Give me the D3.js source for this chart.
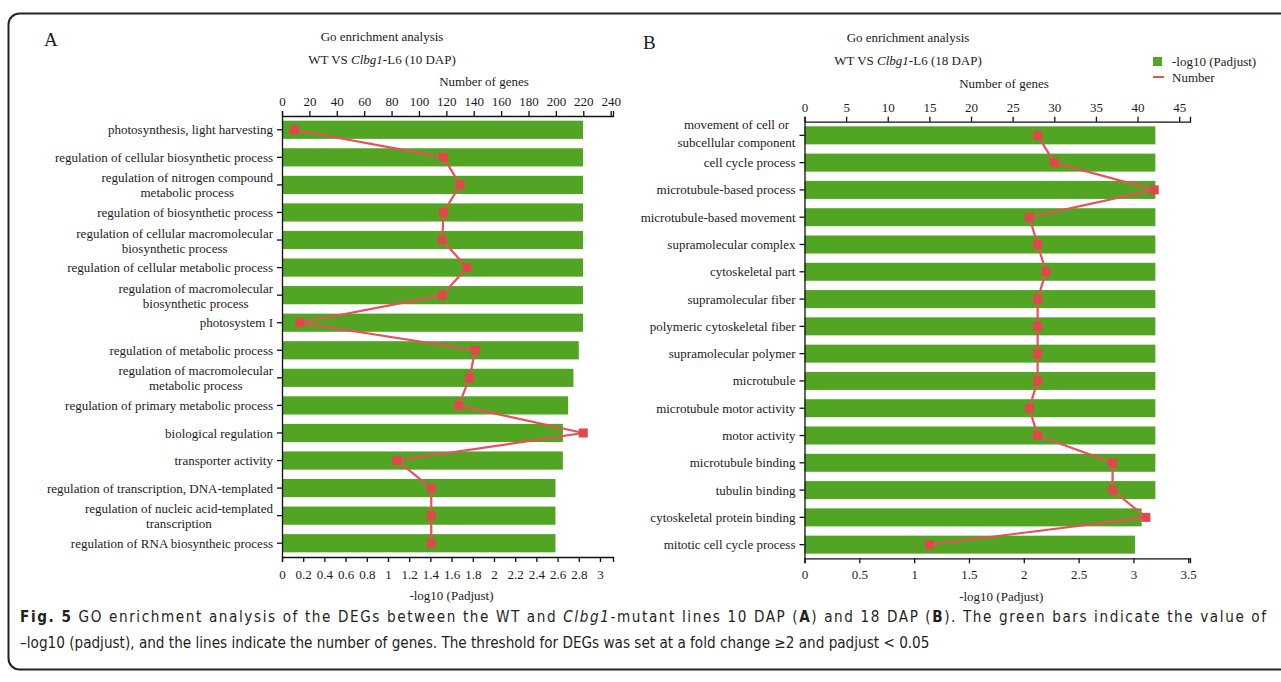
<!DOCTYPE html>
<html>
<head>
<meta charset="utf-8">
<script src="https://cdn.jsdelivr.net/npm/d3@7/dist/d3.min.js"></script>
<style>
  body { margin: 0; background: #fff; }
  svg text { font-family: "Liberation Serif", "Times New Roman", serif; fill: #1b1b1b; }
  .axis path, .axis line { stroke: #111; stroke-width: 1.3; }
  .axis text { font-family: "Liberation Serif", serif; font-size: 13px; fill: #1b1b1b; }
  svg text.cap { font-family: "DejaVu Sans Condensed", "Liberation Sans Narrow", "Open Sans", sans-serif; fill: #231f20; }
</style>
</head>
<body>
<div id="fig"></div>
<script>
// ---- panel A : WT vs Clbg1-L6, 10 DAP ----
const termsA = [
  "photosynthesis, light harvesting",
  "regulation of cellular biosynthetic process",
  "regulation of nitrogen compound\nmetabolic process",
  "regulation of biosynthetic process",
  "regulation of cellular macromolecular\nbiosynthetic process",
  "regulation of cellular metabolic process",
  "regulation of macromolecular\nbiosynthetic process",
  "photosystem I",
  "regulation of metabolic process",
  "regulation of macromolecular\nmetabolic process",
  "regulation of primary metabolic process",
  "biological regulation",
  "transporter activity",
  "regulation of transcription, DNA-templated",
  "regulation of nucleic acid-templated\ntranscription",
  "regulation of RNA biosyntheic process"
]
const padjA = [2.84, 2.84, 2.84, 2.84, 2.84, 2.84, 2.84, 2.84, 2.80, 2.75, 2.70, 2.65, 2.65, 2.58, 2.58, 2.58]
const genesA = [9, 118, 130, 118, 117, 135, 117, 13, 141, 137, 129, 220, 84, 109, 109, 109]
const padjTicksA = [0, 0.2, 0.4, 0.6, 0.8, 1, 1.2, 1.4, 1.6, 1.8, 2, 2.2, 2.4, 2.6, 2.8, 3]
const geneTicksA = [0, 20, 40, 60, 80, 100, 120, 140, 160, 180, 200, 220, 240]

// ---- panel B : WT vs Clbg1-L6, 18 DAP ----
const termsB = [
  "movement of cell or\nsubcellular component",
  "cell cycle process",
  "microtubule-based process",
  "microtubule-based movement",
  "supramolecular complex",
  "cytoskeletal part",
  "supramolecular fiber",
  "polymeric cytoskeletal fiber",
  "supramolecular polymer",
  "microtubule",
  "microtubule motor activity",
  "motor activity",
  "microtubule binding",
  "tubulin binding",
  "cytoskeletal protein binding",
  "mitotic cell cycle process"
]
const padjB = [3.2, 3.2, 3.2, 3.2, 3.2, 3.2, 3.2, 3.2, 3.2, 3.2, 3.2, 3.2, 3.2, 3.2, 3.075, 3.015]
const genesB = [28, 30, 42, 27, 28, 29, 28, 28, 28, 28, 27, 28, 37, 37, 41, 15]
const padjTicksB = [0, 0.5, 1, 1.5, 2, 2.5, 3, 3.5]
const geneTicksB = [0, 5, 10, 15, 20, 25, 30, 35, 40, 45]

const legendItems = ["-log10 (Padjust)", "Number"]

const W = 1281, H = 682
const green = "#52a523", red = "#e2474c"

const svg = d3.select("#fig").append("svg")
  .attr("width", W).attr("height", H)

svg.append("rect").attr("width", W).attr("height", H).attr("fill", "#fff")

// figure frame (runs off the right edge)
svg.append("rect")
  .attr("x", 8.5).attr("y", 13.5)
  .attr("width", 1300).attr("height", 656)
  .attr("rx", 11)
  .attr("fill", "none").attr("stroke", "#222").attr("stroke-width", 2)

function panel(o) {
  const g = svg.append("g")
  const n = o.terms.length

  const y = d3.scaleBand().domain(d3.range(n))
    .range([o.top, o.bottom]).paddingInner(0.34).paddingOuter(0.17)
  const xP = d3.scaleLinear().domain([0, o.padjMax]).range([o.left, o.right])
  const xG = d3.scaleLinear().domain([0, o.geneMax]).range([o.left, o.right])

  g.selectAll(".bar").data(o.padj).join("rect")
    .attr("class", "bar")
    .attr("x", xP(0))
    .attr("y", (d, i) => y(i))
    .attr("width", d => xP(d) - xP(0))
    .attr("height", y.bandwidth())
    .attr("fill", green)

  // axes
  g.append("g").attr("class", "axis")
    .attr("transform", `translate(0,${o.bottom})`)
    .call(d3.axisBottom(xP).tickValues(o.padjTicks).tickFormat(d3.format("~g"))
      .tickSize(5).tickSizeOuter(5).tickPadding(o.botPad))
  g.append("g").attr("class", "axis")
    .attr("transform", `translate(0,${o.top})`)
    .call(d3.axisTop(xG).tickValues(o.geneTicks).tickFormat(d3.format("d"))
      .tickSize(5).tickSizeOuter(5).tickPadding(5))
  g.append("g").attr("class", "axis")
    .attr("transform", `translate(${o.left},0)`)
    .call(d3.axisLeft(y).tickFormat("").tickSize(5).tickSizeOuter(0))

  // number of genes line
  const line = d3.line()
    .x(d => xG(d))
    .y((d, i) => y(i) + y.bandwidth() / 2)
  g.append("path").datum(o.genes)
    .attr("d", line)
    .attr("fill", "none").attr("stroke", "#e65257").attr("stroke-width", 2.2)
  g.selectAll(".pt").data(o.genes).join("rect")
    .attr("class", "pt")
    .attr("x", d => xG(d) - 4.5)
    .attr("y", (d, i) => y(i) + y.bandwidth() / 2 - 4.5)
    .attr("width", 9).attr("height", 9)
    .attr("fill", red)

  // category labels (two-line ones centred on each other)
  o.terms.forEach((t, i) => {
    const lines = t.split("\n")
    const cy = y(i) + y.bandwidth() / 2
    const txt = lines.map((s, k) => g.append("text")
      .attr("x", o.left - 9)
      .attr("y", lines.length === 1 ? cy : cy + o.twoLine[k])
      .attr("dy", "0.35em")
      .attr("text-anchor", "end")
      .style("font-size", "13px")
      .text(s))
    if (lines.length > 1) {
      const w = txt.map(t => t.node().getComputedTextLength())
      const wMax = d3.max(w)
      txt.forEach((t, k) => t.attr("x", o.left - 9 - (wMax - w[k]) / 2))
    }
  })

  // titles
  svg.append("text").attr("x", o.letterX).attr("y", o.letterY)
    .style("font-size", "19px").text(o.letter)
  svg.append("text").attr("x", o.titleX).attr("y", o.titleY)
    .attr("text-anchor", "middle").style("font-size", "13px")
    .text("Go enrichment analysis")
  const sub = svg.append("text").attr("x", o.titleX).attr("y", o.titleY + 23)
    .attr("text-anchor", "middle").style("font-size", "13px")
  sub.append("tspan").text("WT VS ")
  sub.append("tspan").style("font-style", "italic").text("Clbg1")
  sub.append("tspan").text(`-L6 (${o.dap} DAP)`)
  svg.append("text").attr("x", o.genesX).attr("y", o.genesY)
    .attr("text-anchor", "middle").style("font-size", "13px")
    .text("Number of genes")
  svg.append("text").attr("x", (o.left + o.right) / 2 + 4).attr("y", o.bottom + 43)
    .attr("text-anchor", "middle").style("font-size", "13px")
    .text("-log10 (Padjust)")
}

panel({
  terms: termsA, padj: padjA, genes: genesA,
  padjTicks: padjTicksA, geneTicks: geneTicksA,
  padjMax: 3.123, geneMax: 241.7,
  left: 282, right: 613, top: 116, bottom: 557, botPad: 8,
  twoLine: [-7, 8],
  letter: "A", letterX: 44, letterY: 46,
  titleX: 382, titleY: 41, dap: 10,
  genesX: 484, genesY: 86
})

panel({
  terms: termsB, padj: padjB, genes: genesB,
  padjTicks: padjTicksB, geneTicks: geneTicksB,
  padjMax: 3.516, geneMax: 46.3,
  left: 804.5, right: 1190, top: 121.7, bottom: 558.3, botPad: 6,
  twoLine: [-11, 7],
  letter: "B", letterX: 643, letterY: 49,
  titleX: 908, titleY: 42, dap: 18,
  genesX: 1004, genesY: 88
})

// legend
const lg = svg.append("g").attr("transform", "translate(1153,0)")
lg.append("rect").attr("x", 0).attr("y", 57).attr("width", 9).attr("height", 9).attr("fill", green)
lg.append("line").attr("x1", 0).attr("x2", 11).attr("y1", 77).attr("y2", 77)
  .attr("stroke", "#e65257").attr("stroke-width", 2)
lg.selectAll(".lt").data(legendItems).join("text")
  .attr("class", "lt")
  .attr("x", 19).attr("y", (d, i) => 61.5 + i * 15.5)
  .attr("dy", "0.35em").style("font-size", "13px")
  .text(d => d)

// caption: last line sets the font size, first line is spread to full width
const capX = 20, line1End = 1266, line2End = 930
const c2 = svg.append("text").attr("class", "cap").attr("x", capX).attr("y", 648)
  .style("font-size", "15px")
  .text("\u2013log10 (padjust), and the lines indicate the number of genes. The threshold for DEGs was set at a fold change \u22652 and padjust < 0.05")
const fs = 15 * (line2End - capX) / c2.node().getComputedTextLength()
c2.style("font-size", fs + "px")

const c1 = svg.append("text").attr("class", "cap").attr("x", capX).attr("y", 622)
  .style("font-size", fs + "px")
c1.append("tspan").style("font-weight", "bold").text("Fig. 5")
c1.append("tspan").text(" GO enrichment analysis of the DEGs between the WT and ")
c1.append("tspan").style("font-style", "italic").text("Clbg1")
c1.append("tspan").text("-mutant lines 10 DAP (")
c1.append("tspan").style("font-weight", "bold").text("A")
c1.append("tspan").text(") and 18 DAP (")
c1.append("tspan").style("font-weight", "bold").text("B")
c1.append("tspan").text("). The green bars indicate the value of")
if (c1.node().getComputedTextLength() < line1End - capX) {
  c1.attr("textLength", line1End - capX).attr("lengthAdjust", "spacing")
}
</script>
</body>
</html>
